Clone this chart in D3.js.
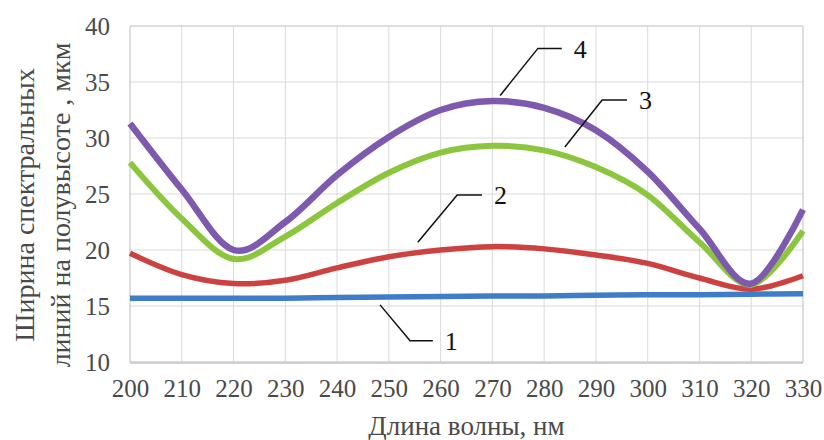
<!DOCTYPE html>
<html>
<head>
<meta charset="utf-8">
<script src="https://cdn.jsdelivr.net/npm/d3@7"></script>
<style>
  body { margin: 0; background: #fff; }
  svg text { font-family: "Liberation Serif", "Times New Roman", serif; }
</style>
</head>
<body>
<svg id="chart"></svg>
<script>
const wavelengths = [200, 210, 220, 230, 240, 250, 260, 270, 280, 290, 300, 310, 320, 330];
const curve1 = [15.7, 15.7, 15.7, 15.7, 15.75, 15.8, 15.85, 15.9, 15.9, 15.95, 16.0, 16.0, 16.05, 16.1];
const curve2 = [19.7, 17.8, 17.0, 17.3, 18.4, 19.4, 20.0, 20.3, 20.1, 19.55, 18.8, 17.5, 16.5, 17.7];
const curve3 = [27.8, 22.8, 19.2, 21.2, 24.2, 26.9, 28.7, 29.3, 28.9, 27.4, 24.9, 20.7, 16.9, 21.7];
const curve4 = [31.3, 25.4, 20.0, 22.5, 26.7, 30.1, 32.5, 33.3, 32.7, 30.7, 27.0, 21.9, 17.0, 23.6];

const xTicks = d3.range(200, 331, 10);
const yTicks = [10, 15, 20, 25, 30, 35, 40];

// label leaders in data units: start on curve, elbow, end of the flat part
const labels = [
  {text: '1', pts: [[248.3, 15.1], [254.1, 11.9], [258.5, 11.9]]},
  {text: '2', pts: [[255.6, 20.7], [263.2, 24.9], [268.0, 24.9]]},
  {text: '3', pts: [[284.0, 29.2], [291.2, 33.4], [296.0, 33.4]]},
  {text: '4', pts: [[271.5, 33.8], [278.8, 38.0], [283.4, 38.0]]}
];

const series = [
  {values: curve1, color: '#3f7dc8', width: 5.5},
  {values: curve2, color: '#cc4240', width: 5.5},
  {values: curve3, color: '#8cc63e', width: 6},
  {values: curve4, color: '#7d5aae', width: 6.5}
];

const w = 824;
const h = 440;
const margin = {top: 26, right: 21, bottom: 78, left: 130};
const width = w - margin.left - margin.right;
const height = h - margin.top - margin.bottom;
const serif = '"Liberation Serif", "Times New Roman", serif';

const svg = d3.select('#chart').attr('width', w).attr('height', h);
const g = svg.append('g').attr('transform', `translate(${margin.left}, ${margin.top})`);

const x = d3.scaleLinear().domain([200, 330]).range([0, width]);
const y = d3.scaleLinear().domain([10, 40]).range([height, 0]);

// grid
g.append('g')
  .selectAll('line')
  .data(xTicks)
  .enter().append('line')
    .attr('x1', d => x(d)).attr('x2', d => x(d))
    .attr('y1', 0).attr('y2', height)
    .attr('stroke', '#dadada');

g.append('g')
  .selectAll('line')
  .data(yTicks)
  .enter().append('line')
    .attr('x1', 0).attr('x2', width)
    .attr('y1', d => y(d)).attr('y2', d => y(d))
    .attr('stroke', '#dadada');

g.append('rect')
  .attr('width', width)
  .attr('height', height)
  .attr('fill', 'none')
  .attr('stroke', '#cfcfcf');

g.append('line')
  .attr('x1', 0).attr('x2', width)
  .attr('y1', height + 1).attr('y2', height + 1)
  .attr('stroke', '#c4c4c4')
  .attr('stroke-width', 1.5);

// axes (labels only)
const xAxis = g.append('g')
  .attr('transform', `translate(0, ${height})`)
  .call(d3.axisBottom(x).tickValues(xTicks).tickSize(0).tickPadding(17));

const yAxis = g.append('g')
  .call(d3.axisLeft(y).tickValues(yTicks).tickSize(0).tickPadding(20));

[xAxis, yAxis].forEach(a => {
  a.attr('font-family', serif).attr('font-size', 25);
  a.select('.domain').remove();
  a.selectAll('text')
    .attr('font-family', serif)
    .attr('font-size', 25)
    .attr('fill', '#4a4a4a');
});

// curves
const line = d3.line()
  .x((d, i) => x(wavelengths[i]))
  .y(d => y(d))
  .curve(d3.curveCardinal.tension(0));

for (const s of series) {
  g.append('path')
    .datum(s.values)
    .attr('fill', 'none')
    .attr('stroke', s.color)
    .attr('stroke-width', s.width)
    .attr('stroke-linejoin', 'round')
    .attr('d', line);
}

// leader lines + numbers
const leader = d3.line().x(d => x(d[0])).y(d => y(d[1]));
for (const lb of labels) {
  g.append('path')
    .attr('d', leader(lb.pts))
    .attr('fill', 'none')
    .attr('stroke', '#111')
    .attr('stroke-width', 1.5);
  const end = lb.pts[lb.pts.length - 1];
  g.append('text')
    .attr('x', x(end[0]) + 12)
    .attr('y', y(end[1]))
    .attr('dy', '0.35em')
    .attr('font-family', serif)
    .attr('font-size', 26)
    .attr('fill', '#111')
    .text(lb.text);
}

// titles
svg.append('text')
  .attr('x', margin.left + width / 2)
  .attr('y', 426)
  .attr('dy', '0.35em')
  .attr('text-anchor', 'middle')
  .attr('font-family', serif)
  .attr('font-size', 27)
  .attr('fill', '#4a4a4a')
  .text('Длина волны, нм');

const yTitle = svg.append('text')
  .attr('transform', 'translate(0, 205) rotate(-90)')
  .attr('text-anchor', 'middle')
  .attr('font-family', serif)
  .attr('font-size', 28)
  .attr('fill', '#4a4a4a');

yTitle.append('tspan').attr('x', 0).attr('y', 34).text('Ширина спектральных');
yTitle.append('tspan').attr('x', 0).attr('y', 70).text('линий на полувысоте , мкм');
</script>
</body>
</html>
